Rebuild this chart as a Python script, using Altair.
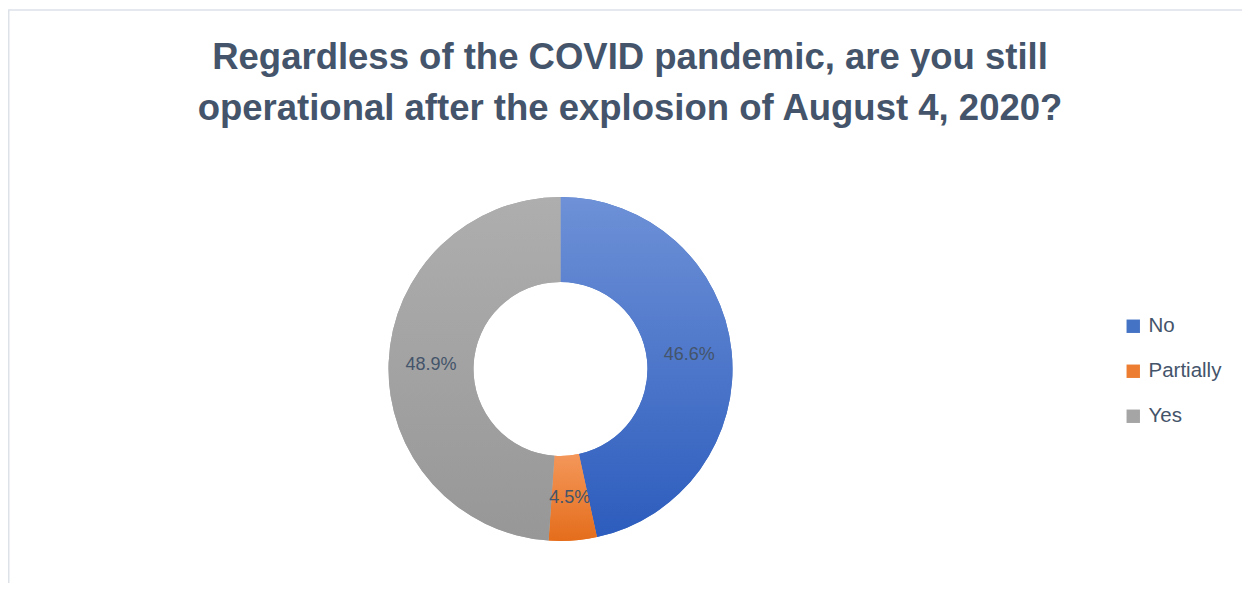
import altair as alt
import pandas as pd

categories = ["No", "Partially", "Yes"]
shares = [46.6, 4.5, 48.9]
labels = ["46.6%", "4.5%", "48.9%"]
title_lines = ["Regardless of the COVID pandemic, are you still",
               "operational after the explosion of August 4, 2020?"]

solid_colors = ["#4472C4", "#ED7D31", "#A5A5A5"]
grad_colors = {
    "No": ("#6E91D7", "#2C5CBD"),
    "Partially": ("#F4975A", "#E46D1B"),
    "Yes": ("#AEAEAE", "#979797"),
}

df = pd.DataFrame({"cat": categories, "share": shares, "label": labels,
                   "order": list(range(len(categories)))})

W, H = 1234, 575
CX, CY = 552.5, 361
R_OUT, R_IN = 172, 87
SLATE = "#44546A"
FONT = "Liberation Sans"

theta_scale = alt.Scale(domain=[0, 100])

stacked = alt.Chart(df).transform_stack(
    stack="share", groupby=[], as_=["v0", "v1"],
    sort=[alt.SortField("order", order="ascending")]
)

legend_layer = stacked.mark_arc(radius=R_OUT, radius2=R_IN).encode(
    theta=alt.Theta("v0:Q", scale=theta_scale),
    theta2="v1:Q",
    x=alt.value(CX), y=alt.value(CY),
    color=alt.Color("cat:N", scale=alt.Scale(domain=categories, range=solid_colors),
                    legend=alt.Legend(title=None, orient="none", legendX=1115, legendY=308,
                                      symbolType="square", symbolSize=180,
                                      symbolStrokeWidth=0, labelFontSize=20.5,
                                      labelFont=FONT, labelColor=SLATE,
                                      rowPadding=24, labelOffset=5)),
)

grad_layers = []
for c in categories:
    top, bottom = grad_colors[c]
    g = alt.LinearGradient(gradient="linear",
                           stops=[alt.GradientStop(offset=0, color=top),
                                  alt.GradientStop(offset=1, color=bottom)],
                           x1=0, x2=0, y1=0, y2=1)
    grad_layers.append(
        stacked.transform_filter(alt.datum.cat == c)
        .mark_arc(radius=R_OUT, radius2=R_IN, fill=g)
        .encode(theta=alt.Theta("v0:Q", scale=theta_scale), theta2="v1:Q",
                x=alt.value(CX), y=alt.value(CY))
    )

label_layer = stacked.transform_calculate(mid="(datum.v0 + datum.v1) / 2").mark_text(
    radius=(R_OUT + R_IN) / 2, fontSize=18, font=FONT, color=SLATE,
    align="center", baseline="middle"
).encode(
    theta=alt.Theta("mid:Q", scale=theta_scale, stack=None),
    x=alt.value(CX), y=alt.value(CY),
    text="label:N",
)

one = pd.DataFrame({"k": [0]})
title_layer = alt.Chart(one).mark_text(
    fontSize=36.5, font=FONT, fontWeight="bold", color=SLATE,
    align="center", baseline="alphabetic", lineHeight=51
).encode(x=alt.value(622), y=alt.value(61), text=alt.value(title_lines))

border_top = alt.Chart(one).mark_rule(color="#DDE1E8", strokeWidth=1.5).encode(
    x=alt.value(0), x2=alt.value(W), y=alt.value(2))
border_left = alt.Chart(one).mark_rule(color="#DDE1E8", strokeWidth=1.5).encode(
    x=alt.value(0.75), y=alt.value(2), y2=alt.value(H))

chart = alt.layer(border_top, border_left, legend_layer, *grad_layers, label_layer,
                  title_layer).properties(
    width=W, height=H, padding=0, autosize=alt.AutoSizeParams(type="none")
).configure_view(stroke=None)

chart.save("out.html", embed_options={"renderer": "svg", "actions": False})
